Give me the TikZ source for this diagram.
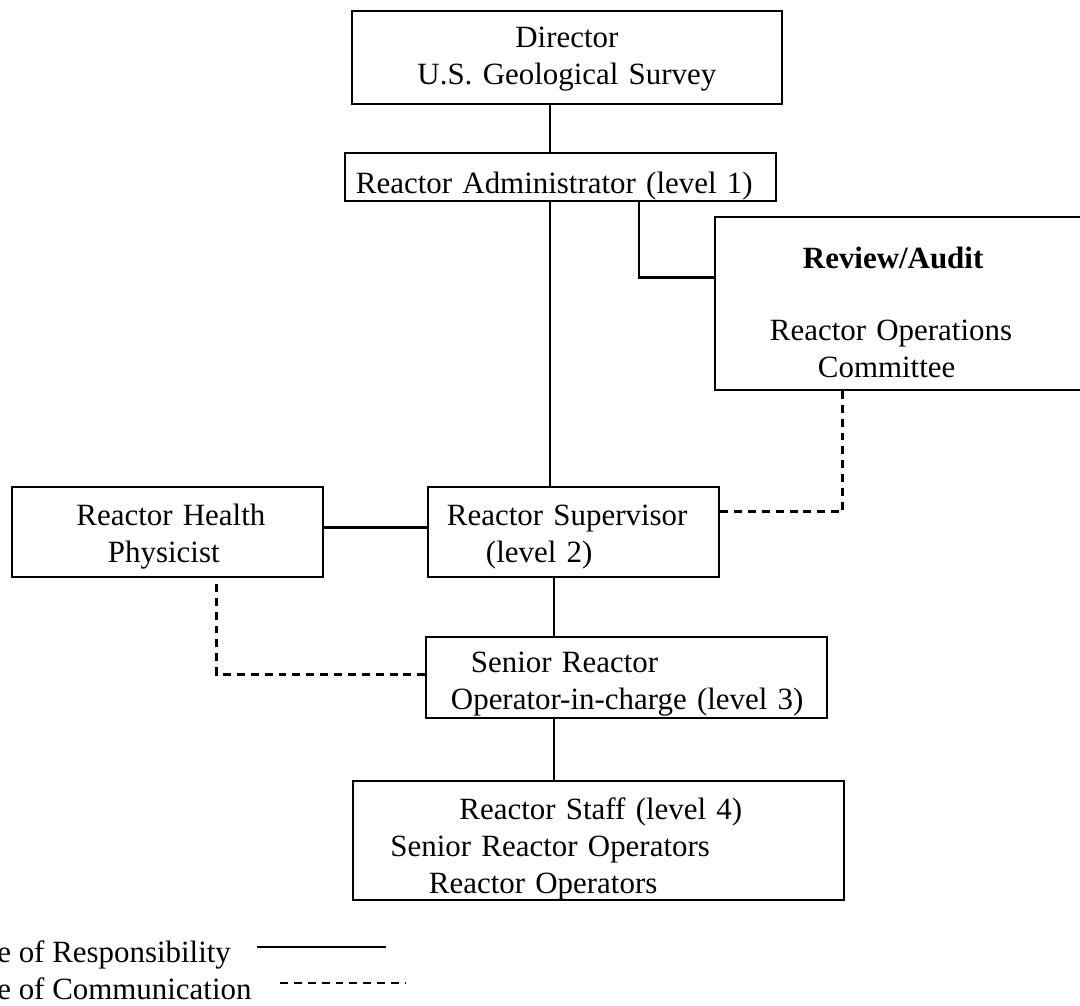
\documentclass[tikz,border=0pt]{standalone}
\usepackage{fontspec}
\setmainfont{Liberation Serif}
\usepackage{tikz}

\newcommand{\orgfont}{\fontsize{17.6pt}{20.8pt}\selectfont}

\begin{document}
\begin{tikzpicture}[x=0.02cm, y=-0.02cm,
    box/.style={draw, line width=1.1pt, inner sep=0pt, anchor=north west, align=left, font=\orgfont},
    legtext/.style={inner sep=0pt, anchor=base west, font=\orgfont},
    resp/.style={line width=1.7pt},
    comm/.style={line width=1.7pt, dash pattern=on 4.5pt off 3.4pt}]
            \useasboundingbox (0,0) rectangle (1080,1006);
            \clip (0,0) rectangle (1080,1006);

            % Cajas
            \node[box, align=center, text width=8.6cm, text height=0.74cm, text depth=1.12cm] (dir) at (351,10) {Director\\U.S. Geological Survey};
            \node[box, text width=8.62cm, text height=0.82cm, text depth=0.14cm] (admin) at (344,152) {\hspace*{0.22cm}Reactor Administrator (level 1)};
            \node[box, text width=7.62cm, text height=1.04cm, text depth=2.42cm] (review) at (714,216) {\hspace*{1.76cm}\textbf{Review/Audit}\\[0.71cm] \hspace*{1.1cm}Reactor Operations\\ \hspace*{2.06cm}Committee};
            \node[box, text width=6.22cm, text height=0.78cm, text depth=1.02cm] (health) at (11,486) {\hspace*{1.29cm}Reactor Health\\ \hspace*{1.92cm}Physicist};
            \node[box, text width=5.82cm, text height=0.78cm, text depth=1.02cm] (sup) at (427,486) {\hspace*{0.38cm}Reactor Supervisor\\ \hspace*{1.16cm}(level 2)};
            \node[box, text width=8.02cm, text height=0.72cm, text depth=0.9cm] (senior) at (425,636) {\hspace*{0.9cm}Senior Reactor\\ \hspace*{0.5cm}Operator-in-charge (level 3)};
            \node[box, text width=9.82cm, text height=0.78cm, text depth=1.6cm] (staff) at (352,780) {\hspace*{2.13cm}Reactor Staff (level 4)\\ \hspace*{0.75cm}Senior Reactor Operators\\ \hspace*{1.52cm}Reactor Operators};

            \coordinate (trunka) at (550,0);
            \coordinate (trunkb) at (554,0);
            \coordinate (auditx) at (639,0);

            % Lineas
            \draw[resp] (dir.south -| trunka) -- (admin.north -| trunka);
            \draw[resp] (admin.south -| trunka) -- (sup.north -| trunka);
            \draw[resp] (admin.south -| auditx) |- ([yshift=-1.24cm]review.north west);
            \draw[resp] ([yshift=0.08cm]health.east) -- ([yshift=0.08cm]sup.west);
            \draw[resp] (sup.south -| trunkb) -- (senior.north -| trunkb);
            \draw[resp] (senior.south -| trunkb) -- (staff.north -| trunkb);
            \draw[comm] ([xshift=2.58cm]review.south west) |- ([yshift=-0.52cm]sup.north east);
            \draw[comm] ([xshift=4.12cm,yshift=-0.12cm]health.south west) |- ([yshift=-0.78cm]senior.north west);

            % Leyenda
            \node[legtext] (legresp) at (-46,963) {Line of Responsibility};
            \node[legtext] (legcomm) at (-46,1000) {Line of Communication};
            \draw[resp] (257,947) -- (386,947);
            \draw[comm] (280,983) -- (406,983);
          \end{tikzpicture}
\end{document}
